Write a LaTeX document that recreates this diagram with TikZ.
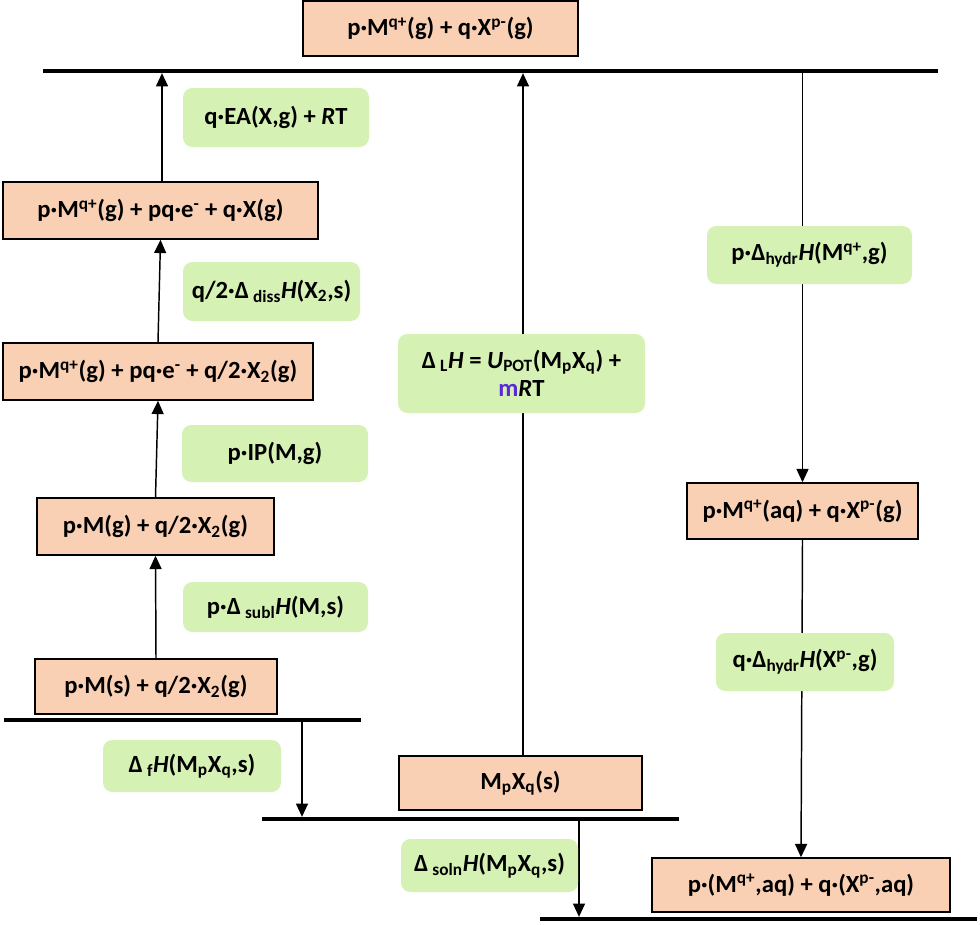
\documentclass[tikz,border=0pt]{standalone}
\usepackage{fontspec}
\setmainfont{Carlito}
\usetikzlibrary{arrows.meta}
\definecolor{peach}{RGB}{250,208,180}
\definecolor{lgreen}{RGB}{214,241,180}
\definecolor{mblue}{RGB}{90,40,220}
\tikzset{
  txt/.style={font=\bfseries\fontsize{18.5}{21.5}\selectfont},
  at box/.style n args={4}{minimum width={0.75pt*(#3-#1)}, minimum height={0.75pt*(#4-#2)}, at={(#1/2+#3/2,#2/2+#4/2)}},
  state/.style={txt, draw=black, line width=1.1pt, fill=peach, inner sep=0pt},
  lab/.style={txt, fill=lgreen, rounded corners=7pt, inner sep=0pt, align=center},
  level/.style={line width=3.4pt},
  arr/.style={line width=1.1pt, -{Triangle[width=9pt,length=10pt]}},
}
\begin{document}
\begin{tikzpicture}[x=0.75pt,y=-0.75pt]
\useasboundingbox (0,0) rectangle (980,924);
% states
\node[state, at box={303}{1}{578}{56}] (top) {p·M\textsuperscript{q+}(g) + q·X\textsuperscript{p-}(g)};
\node[state, at box={3}{182}{318}{239}] (b1) {p·M\textsuperscript{q+}(g) + pq·e\textsuperscript{-} + q·X(g)};
\node[state, at box={3}{343}{313}{400}] (b2) {p·M\textsuperscript{q+}(g) + pq·e\textsuperscript{-} + q/2·X\textsubscript{2}(g)};
\node[state, at box={37}{498}{274}{555}] (b3) {p·M(g) + q/2·X\textsubscript{2}(g)};
\node[state, at box={35}{659}{277}{714}] (b4) {p·M(s) + q/2·X\textsubscript{2}(g)};
\node[state, at box={399}{756}{642}{810}] (mx) {M\textsubscript{p}X\textsubscript{q}(s)};
\node[state, at box={687}{483}{918}{539}] (r1) {p·M\textsuperscript{q+}(aq) + q·X\textsuperscript{p-}(g)};
\node[state, at box={652}{858}{950}{912}] (r2) {p·(M\textsuperscript{q+},aq) + q·(X\textsuperscript{p-},aq)};
% levels
\draw[level] (43,71) -- (938,71);
\draw[level] (4,720) -- (361,720);
\draw[level] (262,819) -- (679,819);
\draw[level] (540,919) -- (977,919);
\coordinate (t1) at (162,71);
\coordinate (tl) at (523,71);
\coordinate (f1) at (302,720);
\coordinate (f2) at (302,819);
\coordinate (s1) at (579,819);
\coordinate (s2) at (579,919);
% arrows
\draw[arr, shorten >=1.6pt] (b1.north -| t1) -- (t1);
\draw[arr] (b2.north) -- (b1.south);
\draw[arr] (b3.north) -- (b2.south);
\draw[arr] (b4.north) -- (b3.south);
\draw[arr, shorten >=1.6pt] (f1) -- (f2);
\draw[arr, shorten >=1.6pt] (mx.north -| tl) -- (tl);
\draw[arr, shorten >=1.6pt] (s1) -- (s2);
\draw[arr] (r1.north |- t1) -- (r1.north);
\draw[arr] (r1.south) -- (r2.north);
% labels
\node[lab, at box={183}{88}{369}{147}] (ea) {q·EA(X,g) + \textit{R}T};
\node[lab, at box={183}{262}{360}{321}] (diss) {q/2·Δ\,\textsubscript{diss}\textit{H}(X\textsubscript{2},s)};
\node[lab, at box={182}{425}{368}{482}] (ip) {p·IP(M,g)};
\node[lab, at box={183}{582}{368}{632}] (subl) {p·Δ\,\textsubscript{subl}\textit{H}(M,s)};
\node[lab, at box={103}{740}{281}{792}] (form) {Δ\,\textsubscript{f}\textit{H}(M\textsubscript{p}X\textsubscript{q},s)};
\node[lab, at box={398}{334}{645}{413}] (lat) {Δ\,\textsubscript{L}\textit{H} = \textit{U}\textsubscript{POT}(M\textsubscript{p}X\textsubscript{q}) +\\\textcolor{mblue}{m}\textit{R}T};
\node[lab, at box={707}{226}{912}{284}] (hyd1) {p·Δ\textsubscript{hydr}\textit{H}(M\textsuperscript{q+},g)};
\node[lab, at box={716}{633}{894}{691}] (hyd2) {q·Δ\textsubscript{hydr}\textit{H}(X\textsuperscript{p-},g)};
\node[lab, at box={401}{839}{578}{892}] (soln) {Δ\,\textsubscript{soln}\textit{H}(M\textsubscript{p}X\textsubscript{q},s)};
\end{tikzpicture}
\end{document}
